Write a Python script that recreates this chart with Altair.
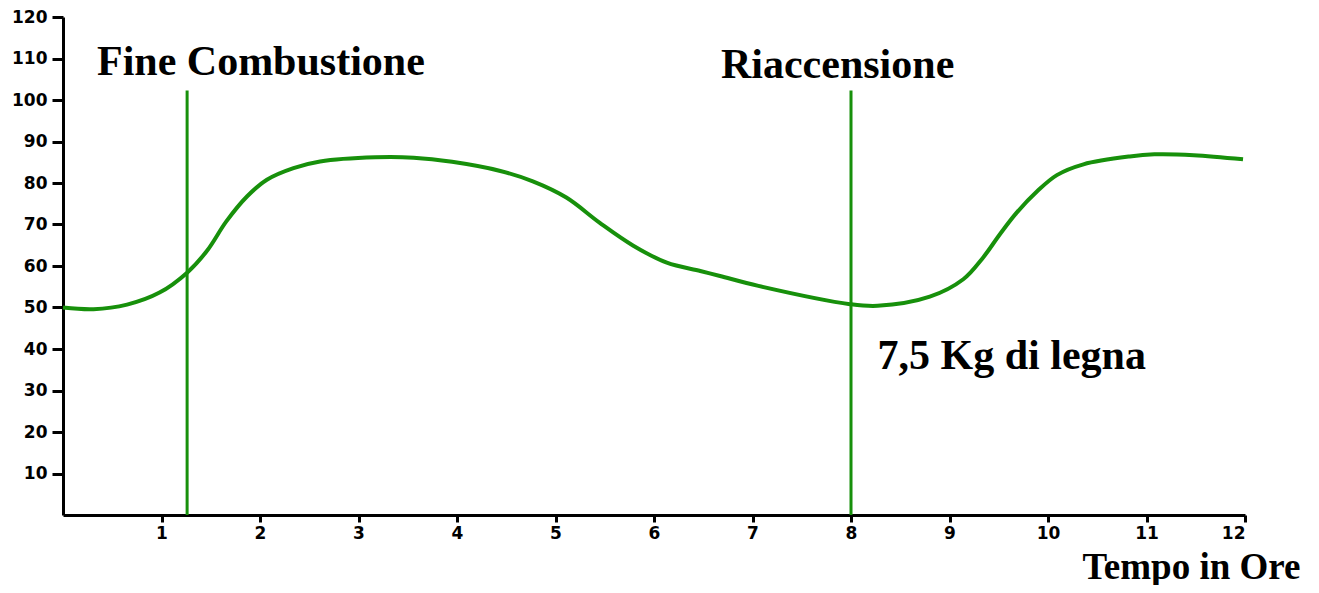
import altair as alt
import pandas as pd

# curve: hours vs value
hours = [0, 0.31, 0.65, 0.98, 1.26, 1.46, 1.66, 1.87, 2.07, 2.34, 2.61, 3.17, 3.56, 3.95,
         4.44, 4.77, 5.11, 5.45, 5.79, 6.13, 6.47, 6.67, 7.06, 7.99, 8.27, 8.80, 9.14,
         9.34, 9.51, 9.68, 9.89, 10.09, 10.36, 10.83, 11.08, 11.48, 11.98]
values = [50.0, 49.6, 50.7, 53.6, 58.4, 63.6, 70.8, 76.8, 80.8, 83.6, 85.2, 86.2, 86.1, 85.1,
          82.9, 80.4, 76.5, 70.4, 64.9, 60.8, 58.8, 57.6, 55.2, 50.8, 50.4, 52.6, 56.8,
          62.0, 67.6, 72.8, 78.0, 81.9, 84.5, 86.4, 86.9, 86.7, 85.7]

# event lines
event_hours = [1.26, 8.0]
event_top = [102.3, 102.3]

# annotations (data units)
label_texts = ["Fine Combustione", "Riaccensione", "7,5 Kg di legna"]
label_hours = [0.345, 6.68, 8.27]
label_values = [106.1, 105.4, 35.3]

x_ticks = list(range(1, 13))
y_ticks = list(range(10, 121, 10))

GREEN = "#17900b"

curve_df = pd.DataFrame({"h": hours, "v": values})
event_df = pd.DataFrame({"h": event_hours, "v0": [0, 0], "v1": event_top})
label_df = pd.DataFrame({"t": label_texts, "h": label_hours, "v": label_values})

xscale = alt.Scale(domain=[0, 12], nice=False, zero=True)
yscale = alt.Scale(domain=[0, 120], nice=False)

xaxis = alt.Axis(values=x_ticks, format="d", title="Tempo in Ore", grid=False,
                 labelFont="DejaVu Sans", labelFontWeight="bold", labelFontSize=17,
                 labelColor="black", labelPadding=3,
                 domainColor="black", domainWidth=3, tickColor="black", tickWidth=3,
                 tickSize=7, titleFont="Liberation Serif", titleFontWeight="bold",
                 titleFontSize=37, titleColor="black", titleAnchor="end",
                 titleAlign="right", titleBaseline="alphabetic",
                 titleX=1237, titleY=63)
yaxis = alt.Axis(values=y_ticks, format="d", title=None, grid=False,
                 labelFont="DejaVu Sans", labelFontWeight="bold", labelFontSize=17,
                 labelColor="black", labelPadding=5,
                 domainColor="black", domainWidth=3, tickColor="black", tickWidth=3,
                 tickSize=11)

curve = alt.Chart(curve_df).mark_line(color=GREEN, strokeWidth=4, interpolate="catmull-rom").encode(
    x=alt.X("h:Q", scale=xscale, axis=xaxis),
    y=alt.Y("v:Q", scale=yscale, axis=yaxis),
)

rules = alt.Chart(event_df).mark_rule(color=GREEN, strokeWidth=3).encode(
    x=alt.X("h:Q", scale=xscale),
    y=alt.Y("v0:Q", scale=yscale),
    y2="v1:Q",
)

labels = alt.Chart(label_df).mark_text(
    font="Liberation Serif", fontWeight="bold", fontSize=42, color="black",
    align="left", baseline="alphabetic"
).encode(
    x=alt.X("h:Q", scale=xscale),
    y=alt.Y("v:Q", scale=yscale),
    text="t:N",
)

chart = alt.layer(curve, rules, labels).properties(
    width=1182, height=498,
    autosize=alt.AutoSizeParams(type="none"),
    padding={"left": 55, "top": 9, "right": 60, "bottom": 70},
).configure(background="white").configure_view(stroke=None, strokeWidth=0)

chart.save("out.html", embed_options={"renderer": "svg", "actions": False})
